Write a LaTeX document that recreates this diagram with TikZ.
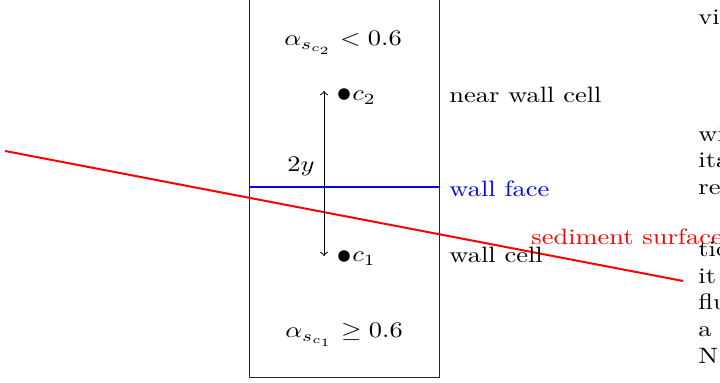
\documentclass[tikz,border=0pt]{standalone}
\usepackage{graphicx}
\newcommand{\hs}[1]{\scalebox{1.19}[1]{#1}}
\begin{document}
\begin{tikzpicture}[x=0.45pt,y=-0.45pt,
  lbl/.style={inner sep=0pt, anchor=base west},
  ctr/.style={inner sep=0pt, anchor=base},
  dotc/.style={circle, fill=black, inner sep=0pt, minimum size=5.2pt},
  cellbox/.style={draw=black!85, line width=0.45pt},
  faceline/.style={draw=blue, line width=0.9pt},
  sedline/.style={draw=red, line width=0.9pt},
  dimarrow/.style={draw=black, line width=0.45pt, <->}]
\useasboundingbox (0,0) rectangle (720,383);
% cell column
\draw[cellbox] (249,-10) rectangle (439,378);
% coordinates
\coordinate (wl) at (249,187);
\coordinate (wr) at (439,187);
\coordinate (s0) at (5,151);
\coordinate (s1) at (683,281);
\coordinate (atop) at (324,91);
\coordinate (abot) at (324,256);
% lines
\draw[faceline] (wl) -- (wr);
\draw[sedline] (s0) -- (s1);
\draw[dimarrow] (atop) -- (abot);
% dots
\node[dotc] (d2) at (344,94) {};
\node[dotc] (d1) at (344,256) {};
\node[lbl] (c2) at (352,101) {\hs{$c_2$}};
\node[lbl] (c1) at (352,262) {\hs{$c_1$}};
% labels
\node[ctr] (atop) at (343,46) {\hs{$\alpha_{s_{c_2}} < 0.6$}};
\node[ctr] (abot) at (344,338) {\hs{$\alpha_{s_{c_1}} \geq 0.6$}};
\node[ctr] (twoy) at (301,172) {\hs{$2y$}};
\node[lbl] (nwc) at (449,103) {\hs{near wall cell}};
\node[lbl, text=blue] (wf) at (449,197) {\hs{wall face}};
\node[lbl] (wc) at (449,263) {\hs{wall cell}};
\node[lbl, text=red] (ss) at (531,245) {\hs{sediment surface}};
% running text fragments at the right edge
\node[lbl] (t1) at (698,25) {\hs{vi}};
\node[lbl] (t2) at (698,142) {\hs{wi}};
\node[lbl] (t3) at (698,168) {\hs{ita}};
\node[lbl] (t4) at (698,195) {\hs{re}};
\node[lbl] (t5) at (698,257) {\hs{tio}};
\node[lbl] (t6) at (698,284) {\hs{it}};
\node[lbl] (t7) at (698,310) {\hs{flu}};
\node[lbl] (t8) at (698,337) {\hs{a}};
\node[lbl] (t9) at (698,364) {\hs{N}};
\end{tikzpicture}
\end{document}
